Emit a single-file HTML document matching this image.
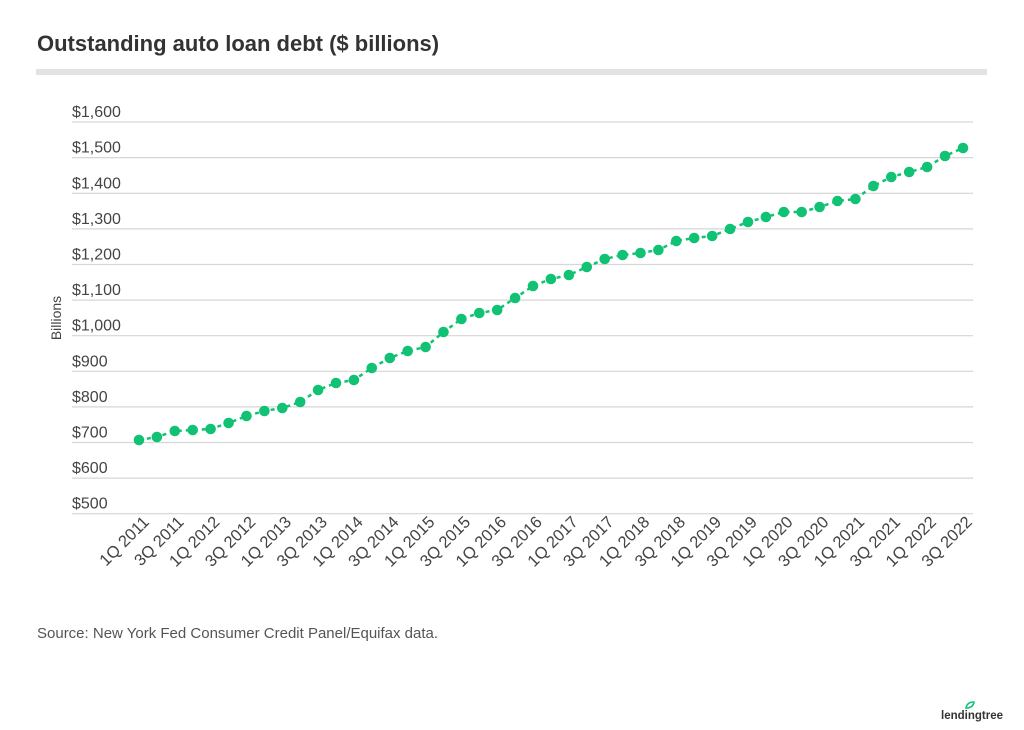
<!DOCTYPE html>
<html><head><meta charset="utf-8"><style>
body{margin:0;background:#fff;}
svg{display:block;font-family:"Liberation Sans",sans-serif;}
</style></head><body>
<svg width="1024" height="730" viewBox="0 0 1024 730" xmlns="http://www.w3.org/2000/svg">
<rect width="1024" height="730" fill="#fff"/>
<text x="37" y="51" font-size="22" font-weight="bold" fill="#333">Outstanding auto loan debt ($ billions)</text>
<rect x="36" y="69" width="951" height="6" fill="#e3e3e3"/>
<g stroke="#d6d6d6" stroke-width="1.2">
<line x1="72" x2="973" y1="122" y2="122"/><line x1="72" x2="973" y1="157.6" y2="157.6"/>
<line x1="72" x2="973" y1="193.3" y2="193.3"/><line x1="72" x2="973" y1="228.9" y2="228.9"/>
<line x1="72" x2="973" y1="264.5" y2="264.5"/><line x1="72" x2="973" y1="300.1" y2="300.1"/>
<line x1="72" x2="973" y1="335.7" y2="335.7"/><line x1="72" x2="973" y1="371.3" y2="371.3"/>
<line x1="72" x2="973" y1="406.9" y2="406.9"/><line x1="72" x2="973" y1="442.5" y2="442.5"/>
<line x1="72" x2="973" y1="478.1" y2="478.1"/><line x1="72" x2="973" y1="513.7" y2="513.7"/>
</g>
<g font-size="16" fill="#444">
<text x="72" y="117">$1,600</text><text x="72" y="152.6">$1,500</text>
<text x="72" y="188.3">$1,400</text><text x="72" y="223.9">$1,300</text>
<text x="72" y="259.5">$1,200</text><text x="72" y="295.1">$1,100</text>
<text x="72" y="330.7">$1,000</text><text x="72" y="366.3">$900</text>
<text x="72" y="401.9">$800</text><text x="72" y="437.5">$700</text>
<text x="72" y="473.1">$600</text><text x="72" y="508.7">$500</text>
</g>
<text transform="translate(61,318) rotate(-90)" text-anchor="middle" font-size="14" fill="#444">Billions</text>
<polyline fill="none" stroke="#12c274" stroke-width="2.5" stroke-dasharray="4,4" points="139,440 156.9,437 174.8,431 192.7,430 210.6,429 228.6,423 246.5,416 264.4,411 282.3,408 300.2,402 318.1,390 336,383 353.9,380 371.8,368 389.8,358 407.7,351 425.6,347 443.5,332 461.4,319 479.3,313 497.2,310 515.1,298 533,286 550.9,279 568.9,275 586.8,267 604.7,259 622.6,255 640.5,253 658.4,250 676.3,241 694.2,238 712.2,236 730.1,229 748,222 765.9,217 783.8,212 801.7,212 819.6,207 837.5,201 855.4,199 873.4,186 891.3,177 909.2,172 927.1,167 945,156 963,148"/>
<g fill="#12c274">
<circle cx="139" cy="440" r="5.3"/><circle cx="156.9" cy="437" r="5.3"/><circle cx="174.8" cy="431" r="5.3"/><circle cx="192.7" cy="430" r="5.3"/><circle cx="210.6" cy="429" r="5.3"/><circle cx="228.6" cy="423" r="5.3"/><circle cx="246.5" cy="416" r="5.3"/><circle cx="264.4" cy="411" r="5.3"/><circle cx="282.3" cy="408" r="5.3"/><circle cx="300.2" cy="402" r="5.3"/><circle cx="318.1" cy="390" r="5.3"/><circle cx="336" cy="383" r="5.3"/><circle cx="353.9" cy="380" r="5.3"/><circle cx="371.8" cy="368" r="5.3"/><circle cx="389.8" cy="358" r="5.3"/><circle cx="407.7" cy="351" r="5.3"/><circle cx="425.6" cy="347" r="5.3"/><circle cx="443.5" cy="332" r="5.3"/><circle cx="461.4" cy="319" r="5.3"/><circle cx="479.3" cy="313" r="5.3"/><circle cx="497.2" cy="310" r="5.3"/><circle cx="515.1" cy="298" r="5.3"/><circle cx="533" cy="286" r="5.3"/><circle cx="550.9" cy="279" r="5.3"/><circle cx="568.9" cy="275" r="5.3"/><circle cx="586.8" cy="267" r="5.3"/><circle cx="604.7" cy="259" r="5.3"/><circle cx="622.6" cy="255" r="5.3"/><circle cx="640.5" cy="253" r="5.3"/><circle cx="658.4" cy="250" r="5.3"/><circle cx="676.3" cy="241" r="5.3"/><circle cx="694.2" cy="238" r="5.3"/><circle cx="712.2" cy="236" r="5.3"/><circle cx="730.1" cy="229" r="5.3"/><circle cx="748" cy="222" r="5.3"/><circle cx="765.9" cy="217" r="5.3"/><circle cx="783.8" cy="212" r="5.3"/><circle cx="801.7" cy="212" r="5.3"/><circle cx="819.6" cy="207" r="5.3"/><circle cx="837.5" cy="201" r="5.3"/><circle cx="855.4" cy="199" r="5.3"/><circle cx="873.4" cy="186" r="5.3"/><circle cx="891.3" cy="177" r="5.3"/><circle cx="909.2" cy="172" r="5.3"/><circle cx="927.1" cy="167" r="5.3"/><circle cx="945" cy="156" r="5.3"/><circle cx="963" cy="148" r="5.3"/>
</g>
<g font-size="16.5" fill="#444" text-anchor="end">
<text transform="translate(150,523) rotate(-45)">1Q 2011</text>
<text transform="translate(184.8,523) rotate(-45)">3Q 2011</text>
<text transform="translate(220.6,523) rotate(-45)">1Q 2012</text>
<text transform="translate(256.5,523) rotate(-45)">3Q 2012</text>
<text transform="translate(292.3,523) rotate(-45)">1Q 2013</text>
<text transform="translate(328.1,523) rotate(-45)">3Q 2013</text>
<text transform="translate(363.9,523) rotate(-45)">1Q 2014</text>
<text transform="translate(399.8,523) rotate(-45)">3Q 2014</text>
<text transform="translate(435.6,523) rotate(-45)">1Q 2015</text>
<text transform="translate(471.4,523) rotate(-45)">3Q 2015</text>
<text transform="translate(507.2,523) rotate(-45)">1Q 2016</text>
<text transform="translate(543,523) rotate(-45)">3Q 2016</text>
<text transform="translate(578.9,523) rotate(-45)">1Q 2017</text>
<text transform="translate(614.7,523) rotate(-45)">3Q 2017</text>
<text transform="translate(650.5,523) rotate(-45)">1Q 2018</text>
<text transform="translate(686.3,523) rotate(-45)">3Q 2018</text>
<text transform="translate(722.2,523) rotate(-45)">1Q 2019</text>
<text transform="translate(758,523) rotate(-45)">3Q 2019</text>
<text transform="translate(793.8,523) rotate(-45)">1Q 2020</text>
<text transform="translate(829.6,523) rotate(-45)">3Q 2020</text>
<text transform="translate(865.4,523) rotate(-45)">1Q 2021</text>
<text transform="translate(901.3,523) rotate(-45)">3Q 2021</text>
<text transform="translate(937.1,523) rotate(-45)">1Q 2022</text>
<text transform="translate(973,523) rotate(-45)">3Q 2022</text>
</g>
<text x="37" y="638" font-size="15" fill="#555">Source: New York Fed Consumer Credit Panel/Equifax data.</text>
<path d="M966,708 q1,-6 8,-6 q-1,6 -8,6z" fill="none" stroke="#12c274" stroke-width="1.6"/>
<text x="972" y="719" font-size="11.5" font-weight="bold" fill="#333" text-anchor="middle">lendingtree</text>
</svg>
</body></html>
